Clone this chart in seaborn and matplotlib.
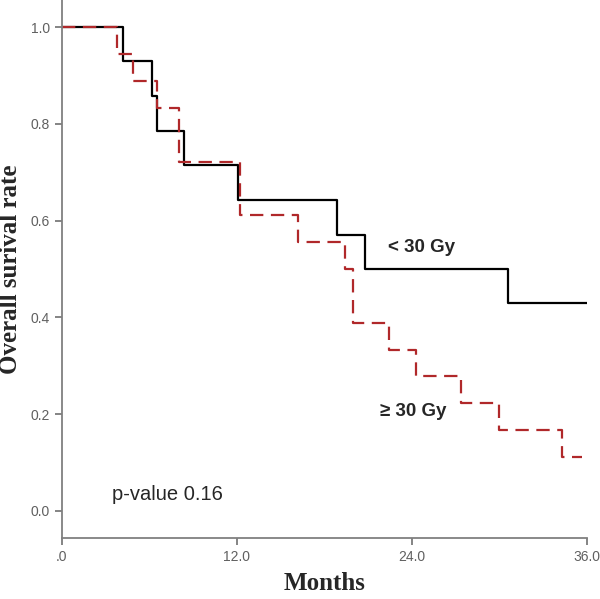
import pandas as pd
import seaborn as sns
import matplotlib.pyplot as plt

# Kaplan-Meier steps (months, survival)
low_dose_months = [0.0, 4.2, 6.2, 6.5, 8.35, 12.1, 18.9, 20.8, 30.6, 36.0]
low_dose_surv = [1.0, 0.929, 0.857, 0.786, 0.714, 0.643, 0.571, 0.5, 0.429, 0.429]

high_dose_months = [0.0, 3.8, 4.9, 6.5, 8.05, 12.25, 16.2, 19.4, 19.95,
                    22.45, 24.3, 27.4, 30.0, 34.3, 35.65]
high_dose_surv = [1.0, 0.944, 0.889, 0.833, 0.722, 0.611, 0.556, 0.5, 0.389,
                  0.333, 0.278, 0.222, 0.167, 0.111, 0.111]

group_names = ["< 30 Gy", "\u2265 30 Gy"]
x_ticks = [0, 12, 24, 36]
x_tick_labels = [".0", "12.0", "24.0", "36.0"]
y_ticks = [0.0, 0.2, 0.4, 0.6, 0.8, 1.0]
y_tick_labels = ["0.0", "0.2", "0.4", "0.6", "0.8", "1.0"]
p_value_text = "p-value 0.16"

df = pd.concat([
    pd.DataFrame({"Months": low_dose_months, "Survival": low_dose_surv, "Group": group_names[0]}),
    pd.DataFrame({"Months": high_dose_months, "Survival": high_dose_surv, "Group": group_names[1]}),
], ignore_index=True)

sns.set_style("ticks")
plt.rcParams['font.family'] = ['Liberation Sans', 'DejaVu Sans']

fig = plt.figure(figsize=(6.0, 5.99), dpi=100)
ax = fig.add_axes([0.103, 0.102, 0.875, 0.898])

sns.lineplot(
    data=df, x="Months", y="Survival", hue="Group", style="Group",
    palette={group_names[0]: "black", group_names[1]: "#b0282a"},
    dashes={group_names[0]: "", group_names[1]: (6, 3.4)},
    drawstyle="steps-post", estimator=None, linewidth=1.6,
    legend=False, ax=ax,
)

ax.set_xlim(0, 36)
ax.set_ylim(-0.056, 1.056)
ax.set_xticks(x_ticks)
ax.set_xticklabels(x_tick_labels)
ax.set_yticks(y_ticks)
ax.set_yticklabels(y_tick_labels)
ax.tick_params(axis="both", colors="#707070", labelcolor="#606060",
               labelsize=10, length=5, width=1.2, direction="out")

for side in ["top", "right"]:
    ax.spines[side].set_visible(False)
for side in ["left", "bottom"]:
    ax.spines[side].set_color("#808080")
    ax.spines[side].set_linewidth(1.3)

ax.set_xlabel("Months", family="Liberation Serif", fontweight="bold",
              fontsize=18, labelpad=6)
ax.set_ylabel("Overall surival rate", family="Liberation Serif",
              fontweight="bold", fontsize=18, labelpad=6)

ax.text(22.4, 0.545, group_names[0], fontsize=13.5, fontweight="bold",
        va="center", ha="left")
ax.text(21.8, 0.205, group_names[1], fontsize=13.5, fontweight="bold",
        va="center", ha="left")
ax.text(3.45, 0.033, p_value_text, fontsize=14.5, va="center", ha="left")

plt.savefig("out.png", dpi=100)
